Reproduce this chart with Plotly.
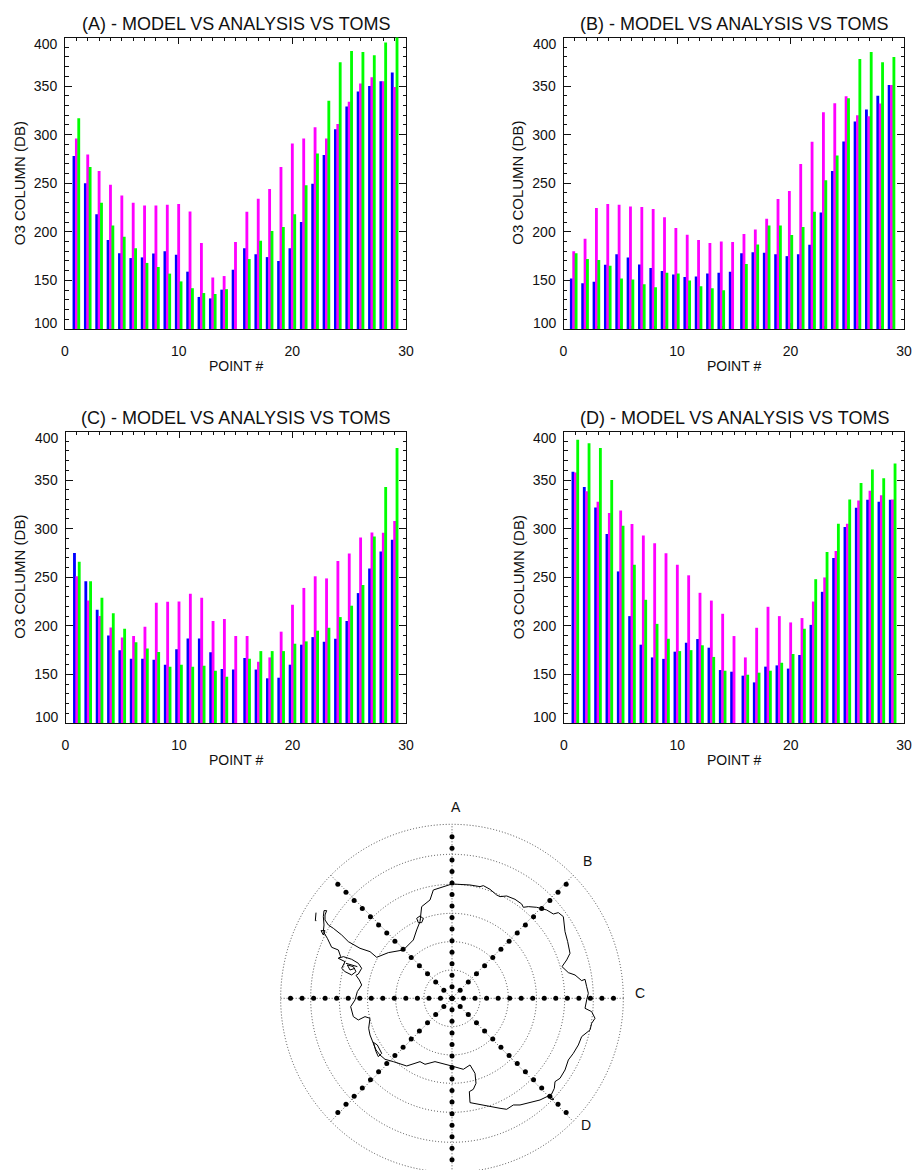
import numpy as np
import plotly.graph_objects as go

W, H = 912, 1170
points = list(range(1, 30))
N = None

a_model = [278,250,218,191.5,178,173,173.7,177.8,180,176.4,159,133,131.5,140.5,161,183,177,174,170,183,210,249.5,279,305.7,329,344.4,350,355,364]
a_analysis = [296,279.6,262.5,248.4,237.5,230,227,227,228,228.6,221,188.4,153,154.5,189.5,220.7,234,244,266.6,291,296,307.7,296,311,334,352.7,359,355,349]
a_toms = [317,266.6,230,206.6,195,183,168,163.8,157,149,142,137,136,141,N,172,190.8,200.8,205,218,248,280.7,335,374.6,386,385,381.8,394.8,405]

b_model = [152,147,148.7,166,177,173.7,166.5,162.7,159.7,156,153.5,154,157,158,159,178,179,178.5,177,175,177,186.7,220,262.5,293,313.6,326,340,351]
b_analysis = [180,193,224.4,228.6,228,226,225.5,223.4,215,204,197,191.5,188.5,190,189.5,197.7,202.5,213.5,233.7,242,269.7,292.7,323,332.4,339.6,320,319,332,351]
b_toms = [178,172,171,165,152,151,146,143,158,157,150,144,142,140,N,167,187,206.6,206.6,196.7,205,220.7,253,278.6,337.6,378,385,374.6,380]

c_model = [275,246,216.6,190,175,166,166,165,160,176,187,187,172.7,155.5,155,167,155,146,146.6,160,180.6,188.4,183.6,186.7,205,233.7,259,276.5,288.5]
c_analysis = [251,226,210,198.4,188,189.5,199,223.8,224.8,225,233,229,205,207,189.5,189.5,163,167.5,194,221.7,239,251,248.8,266.6,274.5,291,296,295.8,308]
c_toms = [266,246,229,213,197,183,176.8,173,158,160,158,159,153.8,147.6,N,166,174,174,174,181.6,184,195,198,209,220.7,242,292,343,383]

d_model = [358.5,343,321.8,294.4,256,210,180.6,167.5,166,173.4,182.6,186.4,177.5,154.5,152.8,148.7,141.8,158,159.3,156,170,201,235,269.7,301.6,321.5,329.7,327.6,329.7]
d_analysis = [357.8,338.6,327.6,316,318.7,304.7,293,285,274.8,262.8,252,234,226,212.4,189.5,167.5,198,219.6,210,203.5,208,225,249.8,277,305,329,339,334.5,330]
d_toms = [391.4,388,383,350,303,262.8,226.8,202,186.7,174,175,180,168,153.8,N,149.7,151.8,153.8,162,171,197,248,276,305,330,347,361,352,367]

panel_letters = ["A", "B", "C", "D"]
panel_series = [(a_model, a_analysis, a_toms), (b_model, b_analysis, b_toms),
                (c_model, c_analysis, c_toms), (d_model, d_analysis, d_toms)]
series_names = ["Model", "Analysis", "TOMS"]
series_colors = ["#0000ff", "#ff00ff", "#00ff00"]
title_text = "({}) - MODEL VS ANALYSIS VS TOMS"
x_ticks = [0, 10, 20, 30]
y_ticks = [100, 150, 200, 250, 300, 350, 400]
x_minor = list(range(0, 31))
y_minor = list(range(100, 401, 10))

coast_x = [546,575,600,630,640,660,680,690,710,735,755,760,775,800,815,830,850,865,880,882,885,893,900,890,876,895,915,935,945,950,955,950,945,965,975,965,960,935,925,910,895,885,870,855,853,845,835,810,780,750,730,710,690,660,630,600,598,610,618,615,600,580,545,495,465,450,435,410,370,345,330,318,310,300,296,300,285,265,250,242,255,262,275,268,258,265,275,265,245,220,205,212,205,185,172,160,162,160,162,170,165,165,175,190,215,235,270,300,320,355,400,430,440,450,455,480,490,520,546]
coast_y = [282,283,285,290,287,298,315,320,318,328,342,352,350,352,355,360,372,368,380,400,425,455,490,510,530,548,555,572,568,590,610,630,655,665,685,700,720,740,765,790,810,840,865,875,895,912,918,930,938,945,945,958,955,950,945,938,905,898,880,850,825,838,828,815,823,815,820,828,815,808,795,780,760,735,715,685,680,690,680,650,630,605,585,570,556,552,535,520,508,500,505,500,480,472,445,425,405,380,362,362,375,390,405,415,435,455,475,485,502,488,480,450,420,395,350,330,300,290,282]
shelf_x = [205,225,215,225,245,258,250,232,240,255,None,228,245,262,None,153,165,160,153]
shelf_y = [505,515,535,545,555,545,530,525,540,535,None,520,525,530,None,422,422,435,422]
isle_x = [138,136,139,None,440,450,460,455,445,440,None,310,322,335,325,318,310,None,835,852,842,835]
isle_y = [368,392,392,None,385,378,386,398,398,385,None,757,765,790,800,785,757,None,915,928,928,915]

ring_radii_x = [84.5, 169, 253.5, 338, 424, 514]
ring_radii_y = [85, 170, 255, 342, 432, 522]
spoke_angles = [90, 45, 0, -45]
spoke_labels = ["A", "B", "C", "D"]
label_px = [(456, 807), (587, 861), (640, 993), (586, 1125)]
dot_index = list(range(-14, 15))
dot_step = 34.6

FONT = "Liberation Sans"
INK = "#111111"

def dx(p): return p / W
def dy(p): return 1 - p / H

boxes = [(65, 406, 37.5, 329), (563.5, 904, 37.5, 329), (65.5, 406, 431.5, 723), (564, 904, 431.5, 723)]
shifts = [0, -0.1, 0, 0]
centres = [-0.21, 0, 0.21]
BAR = 0.25

fig = go.Figure()
layout = dict(width=W, height=H, margin=dict(l=0, r=0, t=0, b=0, autoexpand=False), autosize=False,
              paper_bgcolor="white", plot_bgcolor="white", showlegend=False, barmode="overlay",
              font=dict(family=FONT, size=14, color=INK))
ann = []
for i, (letter, series, box) in enumerate(zip(panel_letters, panel_series, boxes)):
    n = i + 1
    xa, ya = f"x{n}" if n > 1 else "x", f"y{n}" if n > 1 else "y"
    for name, vals, col, c in zip(series_names, series, series_colors, centres):
        fig.add_trace(go.Bar(x=points, y=vals, name=name, marker=dict(color=col, line=dict(width=0)),
                             width=BAR, offset=c + shifts[i] - BAR / 2, xaxis=xa, yaxis=ya))
    l, r, t, b = box
    common = dict(showgrid=False, zeroline=False, showline=True, linecolor=INK, linewidth=1,
                  mirror="ticks", ticks="inside", tickcolor=INK, tickwidth=1, layer="below traces",
                  tickfont=dict(family=FONT, size=14, color=INK), tickmode="array")
    layout[f"xaxis{n}"] = dict(domain=[dx(l), dx(r)], range=[0, 30], anchor=ya, tickvals=x_ticks,
                               ticktext=[str(v) for v in x_ticks], ticklen=6, ticklabelstandoff=9,
                               minor=dict(tickmode="array", tickvals=x_minor, ticks="inside", ticklen=3,
                                          tickcolor=INK, tickwidth=1), **common)
    layout[f"yaxis{n}"] = dict(domain=[dy(b), dy(t)], range=[100, 400], anchor=xa, tickvals=y_ticks,
                               ticktext=["" if v in (100, 400) else str(v) for v in y_ticks], ticklen=7,
                               ticklabelstandoff=4,
                               minor=dict(tickmode="array", tickvals=y_minor, ticks="inside", ticklen=3.5,
                                          tickcolor=INK, tickwidth=1), **common)
    for v, shift in ((400, -6), (100, 6)):
        ann.append(dict(text=str(v), xref="paper", yref="paper", x=dx(l - 5), y=dy(t if v == 400 else b),
                        xanchor="right", yanchor="middle", yshift=shift, showarrow=False,
                        font=dict(family=FONT, size=14, color=INK)))
    cx = (l + r) / 2
    ann.append(dict(text=title_text.format(letter), xref="paper", yref="paper", x=dx(cx), y=dy(t - 14),
                    xanchor="center", yanchor="middle", showarrow=False, font=dict(family=FONT, size=18, color=INK)))
    ann.append(dict(text="POINT #", xref="paper", yref="paper", x=dx(cx), y=dy(b + 37),
                    xanchor="center", yanchor="middle", showarrow=False, font=dict(family=FONT, size=14, color=INK)))
    ann.append(dict(text="O3 COLUMN (DB)", xref="paper", yref="paper", x=dx(l - 46), y=dy((t + b) / 2),
                    xanchor="center", yanchor="middle", textangle=-90, showarrow=False,
                    font=dict(family=FONT, size=15, color=INK)))

# Map panel: one map unit is a third of a pixel, centred on the pole
CX, CY = 452, 998.3
px = 182
layout["xaxis5"] = dict(domain=[dx(CX - px), dx(CX + px)], range=[-px * 3, px * 3], visible=False, anchor="y5")
layout["yaxis5"] = dict(domain=[0, dy(CY - px)], range=[-(H - CY) * 3, px * 3], visible=False, anchor="x5")
shapes = []
for Rx, Ry in zip(ring_radii_x, ring_radii_y):
    shapes.append(dict(type="circle", xref="x5", yref="y5", x0=-Rx, x1=Rx, y0=-Ry, y1=Ry,
                       line=dict(color="#222222", width=0.8, dash="1px,2px"), layer="below"))
for ang in spoke_angles:
    ca, sa = np.cos(np.radians(ang)), np.sin(np.radians(ang))
    Rx, Ry = ring_radii_x[-1], ring_radii_y[-1]
    shapes.append(dict(type="line", xref="x5", yref="y5", x0=-Rx * ca, x1=Rx * ca, y0=-Ry * sa, y1=Ry * sa,
                       line=dict(color="#222222", width=0.8, dash="1px,2px"), layer="below"))
    idx = np.array(dot_index) * dot_step
    fig.add_trace(go.Scatter(x=idx * ca, y=idx * sa, mode="markers", xaxis="x5", yaxis="y5",
                             marker=dict(color="black", size=5), cliponaxis=False))
for xs, ys in ((coast_x, coast_y), (shelf_x, shelf_y), (isle_x, isle_y)):
    fig.add_trace(go.Scatter(x=[None if v is None else v - 546 for v in xs],
                             y=[None if v is None else 625 - v for v in ys],
                             mode="lines", xaxis="x5", yaxis="y5", line=dict(color="black", width=1)))
for lab, (lx, ly) in zip(spoke_labels, label_px):
    ann.append(dict(text=lab, xref="paper", yref="paper", x=dx(lx), y=dy(ly), xanchor="center", yanchor="middle",
                    showarrow=False, font=dict(family=FONT, size=14, color=INK)))

layout["annotations"] = ann
layout["shapes"] = shapes
fig.update_layout(**layout)
fig.write_html("out.html", post_script="document.body.style.margin='0';", config=dict(displayModeBar=False))
